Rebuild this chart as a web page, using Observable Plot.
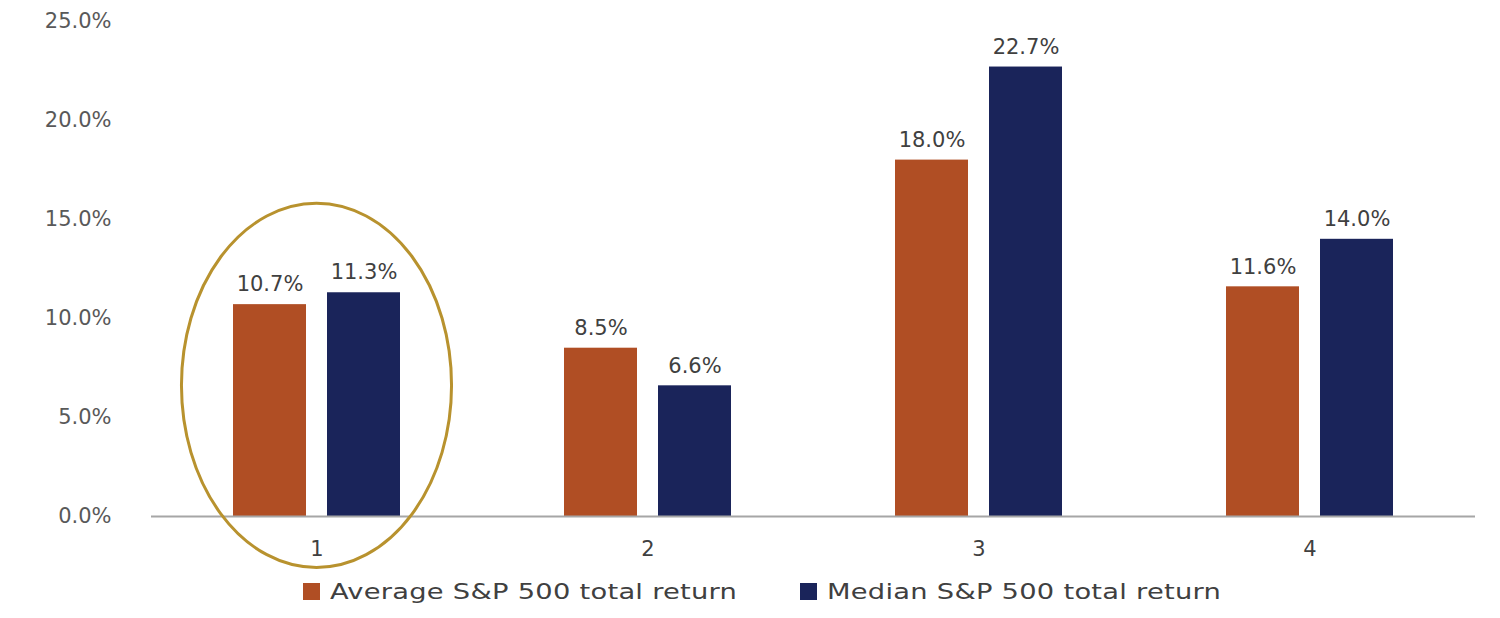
<!DOCTYPE html>
<html>
<head>
<meta charset="utf-8">
<script src="https://cdn.jsdelivr.net/npm/d3@7"></script>
<script src="https://cdn.jsdelivr.net/npm/@observablehq/plot@0.6"></script>
<style>
  html, body { margin: 0; padding: 0; background: #ffffff; }
  #chart { width: 1500px; position: relative; }
  #chart svg { overflow: visible; position: relative; z-index: 2; }
  .legend {
    display: flex; align-items: center; height: 53px; padding-left: 303px;
    font-family: "DejaVu Sans", sans-serif; font-size: 21px; color: #404040;
    box-sizing: border-box; position: relative; z-index: 1;
  }
  .legend .item { display: flex; align-items: center; white-space: nowrap; }
  .legend .item:first-child { width: 497px; }
  .legend .sw { width: 17px; height: 17px; margin-right: 10px; flex: none; }
  .legend .lab { display: inline-block; transform: scaleX(1.3); transform-origin: left center; letter-spacing: 0.2px; }
</style>
</head>
<body>
<div id="chart"></div>
<script>
// ---- data ----
const groups = ["1", "2", "3", "4"];
const seriesNames = ["Average S&P 500 total return", "Median S&P 500 total return"];
const averageReturn = [10.7, 8.5, 18.0, 11.6];
const medianReturn = [11.3, 6.6, 22.7, 14.0];
const yTicks = [0, 5, 10, 15, 20, 25];
const seriesColors = ["#B04E24", "#1A245A"];
const highlightGroup = "1";

const rows = [];
groups.forEach((g, i) => {
  rows.push({group: g, series: seriesNames[0], value: averageReturn[i]});
  rows.push({group: g, series: seriesNames[1], value: medianReturn[i]});
});
const fmt = d => d.toFixed(1) + "%";

const plot = Plot.plot({
  width: 1500,
  height: 565,
  marginLeft: 150,
  marginRight: 25,
  marginTop: 21,
  marginBottom: 49,
  style: {fontFamily: "DejaVu Sans, sans-serif", fontSize: "21px", color: "#595959", background: "#ffffff", overflow: "visible"},
  facet: {data: rows, x: "group"},
  fx: {domain: groups, padding: 0, label: null, tickSize: 0, tickPadding: 25, axis: "bottom"},
  x: {domain: seriesNames, paddingInner: 0.22, paddingOuter: 0.87, axis: null},
  y: {domain: [0, 25], ticks: yTicks, tickFormat: fmt, tickSize: 0, tickPadding: 40, label: null, grid: false},
  color: {domain: seriesNames, range: seriesColors},
  marks: [
    Plot.barY(rows, {x: "series", y: "value", fill: "series"}),
    Plot.ruleY([0], {stroke: "#A6A6A6", strokeWidth: 2}),
    Plot.text(rows, {x: "series", y: "value", text: d => fmt(d.value), dy: -20, fill: "#404040", fontSize: 21})
  ]
});

// fx tick label colour
plot.querySelectorAll('[aria-label^="fx-axis"] text').forEach(t => t.setAttribute("fill", "#404040"));

// highlight ellipse around group 1, positioned by the plot's own scales
const fxS = plot.scale("fx");
const yS = plot.scale("y");
const cx = fxS.apply(highlightGroup) + fxS.bandwidth / 2;
const cy = yS.apply(6.6);
const ry = yS.apply(0) - yS.apply(9.2);
const rx = fxS.bandwidth * 0.408;
const ns = "http://www.w3.org/2000/svg";
const ell = document.createElementNS(ns, "ellipse");
ell.setAttribute("cx", cx);
ell.setAttribute("cy", cy);
ell.setAttribute("rx", rx);
ell.setAttribute("ry", ry);
ell.setAttribute("fill", "none");
ell.setAttribute("stroke", "#B8922E");
ell.setAttribute("stroke-width", 3);
plot.appendChild(ell);

document.getElementById("chart").appendChild(plot);

// legend
const legend = document.createElement("div");
legend.className = "legend";
seriesNames.forEach((s, i) => {
  const item = document.createElement("div");
  item.className = "item";
  const sw = document.createElement("span");
  sw.className = "sw";
  sw.style.background = seriesColors[i];
  const lab = document.createElement("span");
  lab.className = "lab";
  lab.textContent = s;
  item.appendChild(sw);
  item.appendChild(lab);
  legend.appendChild(item);
});
document.getElementById("chart").appendChild(legend);
</script>
</body>
</html>
